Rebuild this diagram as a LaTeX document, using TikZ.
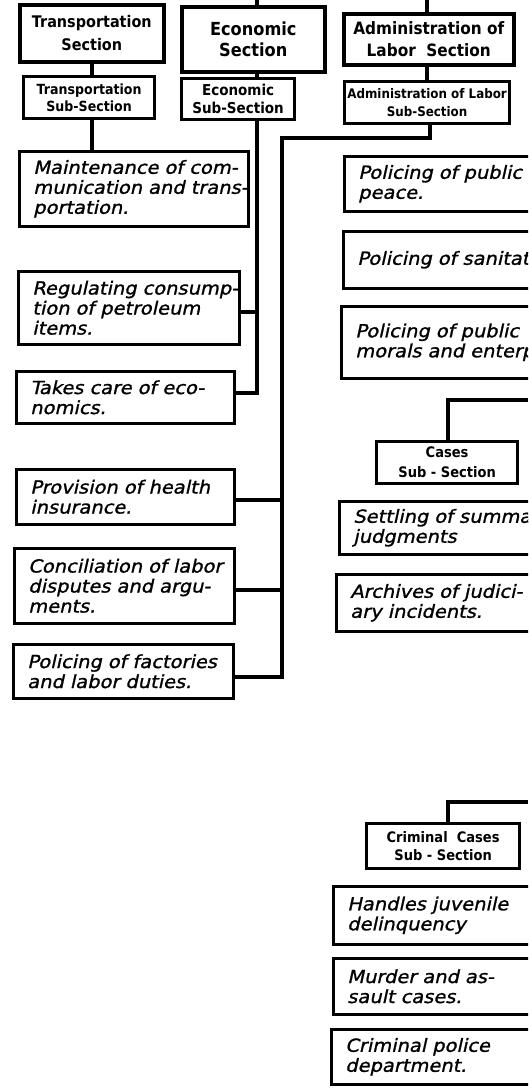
\documentclass[tikz,border=0pt]{standalone}
\usepackage{fontspec}
% upright block lettering for the section boxes, slanted hand lettering for the duties
\newfontfamily\blockfont[FakeStretch=0.9]{DejaVu Sans Bold}
\newfontfamily\handfont[FakeSlant=0.22,FakeStretch=1.08,FakeBold=1.2]{DejaVu Sans}
\begin{document}
\begin{tikzpicture}[x=1pt,y=-1pt,
  box size/.style 2 args={minimum width=#1pt,minimum height=#2pt},
  block/.style 2 args={font=\blockfont\fontsize{#1}{#2}\selectfont},
  secbox/.style={draw,line width=3.6pt,anchor=north west,inner sep=0pt,align=center},
  subbox/.style={secbox,line width=3.2pt},
  descbox/.style 2 args={draw,line width=2.6pt,anchor=north west,inner sep=0pt,
    minimum width=#1pt,minimum height=#2pt,text width=#1pt,align=left,
    font=\handfont\fontsize{18}{20}\selectfont,
    execute at begin node={\leftskip=14pt}},
  link/.style={line width=3.2pt}]
\useasboundingbox (0,0) rectangle (528,1092);
\clip (0,0) rectangle (528,1092);
\fill[white] (0,0) rectangle (528,1092);

% sections
\node[secbox,box size={144}{57},block={16}{23}] (T1) at (18,3) {Transportation\\Section};
\node[secbox,box size={143}{65},block={18}{21}] (E1) at (180,5) {Economic\\Section};
\node[secbox,box size={170}{51},block={17}{22}] (A1) at (342,12) {Administration of\\Labor\ \ Section};

% sub-sections
\node[subbox,box size={131}{42},block={14}{17}] (T2) at (22,75) {Transportation\\Sub-Section};
\node[subbox,box size={113}{41},block={15}{18}] (E2) at (180,77) {Economic\\Sub-Section};
\node[subbox,box size={165}{42},block={13.2}{18}] (A2) at (343,80) {Administration of Labor\\Sub-Section};

% transportation duties
\node[descbox={229}{75}] (M) at (18,150) {Maintenance of com-\\munication and trans-\\portation.};

% economic duties
\node[descbox={221}{73}] (R) at (17,270) {Regulating consump-\\tion of petroleum\\items.};
\node[descbox={218}{52}] (TC) at (15,370) {Takes care of eco-\\nomics.};

% labor duties
\node[descbox={218}{55}] (P) at (15,468) {Provision of health\\insurance.};
\node[descbox={220}{75}] (C) at (13,547) {Conciliation of labor\\disputes and argu-\\ments.};
\node[descbox={220}{54}] (F) at (12,643) {Policing of factories\\and labor duties.};

% right-hand column
\node[descbox={250}{55}] (PP) at (343,155) {Policing of public\\peace.};
\node[descbox={250}{57}] (PS) at (342,230) {Policing of sanitation};
\node[descbox={250}{72}] (PM) at (340,305) {Policing of public\\morals and enterprises};
\node[subbox,box size={141}{42},block={14.5}{20}] (Cs) at (375,440) {Cases\\Sub - Section};
\node[descbox={250}{53}] (S) at (338,500) {Settling of summary\\judgments};
\node[descbox={250}{57}] (AR) at (335,573) {Archives of judici-\\ary incidents.};
\node[subbox,box size={153}{45},block={14.5}{18}] (Cr) at (365,822) {Criminal\ \ Cases\\Sub - Section};
\node[descbox={250}{58}] (H) at (332,885) {Handles juvenile\\delinquency};
\node[descbox={250}{56}] (MU) at (332,957) {Murder and as-\\sault cases.};
\node[descbox={250}{55}] (CP) at (330,1028) {Criminal police\\department.};

% connector ends and bends
\coordinate (etop) at (257,0);
\coordinate (atop) at (427,0);
\coordinate (ej) at (257,393);
\coordinate (er) at (257,312);
\coordinate (a1) at (430,138);
\coordinate (a2) at (282,138);
\coordinate (ap) at (282,500);
\coordinate (ac) at (282,590);
\coordinate (af) at (282,677);
\coordinate (cin) at (528,400);
\coordinate (cbend) at (448,400);
\coordinate (rin) at (528,802);
\coordinate (rbend) at (448,802);

% connectors
\draw[link] (etop) -- (E1.north -| etop);
\draw[link] (atop) -- (A1.north -| atop);
\draw[link] (T1.south -| 92,0) -- (T2.north -| 92,0);
\draw[link] (E1.south -| etop) -- (E2.north -| etop);
\draw[link] (A1.south -| atop) -- (A2.north -| atop);
\draw[link] (T2.south -| 92,0) -- (M.north -| 92,0);
\draw[link] (E2.south -| ej) -- (ej) -- (TC.east |- ej);
\draw[link] (R.east |- er) -- (er);
\draw[link] (A2.south -| a1) -- (a1) -- (a2) -- (af) -- (F.east |- af);
\draw[link] (P.east |- ap) -- (ap);
\draw[link] (C.east |- ac) -- (ac);
\draw[link] (cin) -- (cbend) -- (Cs.north -| cbend);
\draw[link] (rin) -- (rbend) -- (Cr.north -| rbend);
\end{tikzpicture}
\end{document}
